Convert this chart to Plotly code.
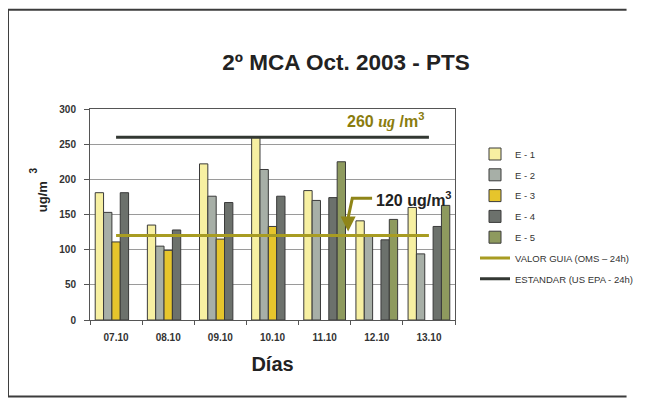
import plotly.graph_objects as go

# categories (days) and station values in ug/m3 (None = no sample)
dias = ["07.10", "08.10", "09.10", "10.10", "11.10", "12.10", "13.10"]
e1 = [181, 135, 222, 260, 184, 141, 160]
e2 = [153, 105, 176, 214, 170, 121, 94]
e3 = [111, 99, 115, 133, None, None, None]
e4 = [181, 128, 167, 176, 174, 114, 133]
e5 = [None, None, None, None, 225, 143, 163]
valor_guia = [120] * 7
estandar = [260] * 7

stations = [
    ("E - 1", e1, "#F7F0A2"),
    ("E - 2", e2, "#A7AFA7"),
    ("E - 3", e3, "#E6C52C"),
    ("E - 4", e4, "#6C716C"),
    ("E - 5", e5, "#8E9A5E"),
]

W, H = 629, 390

fig = go.Figure()

for name, vals, color in stations:
    fig.add_trace(go.Bar(
        x=dias, y=vals, name=name, legendgroup=name,
        marker=dict(color=color, line=dict(color="#3a3a3a", width=1))
    ))

fig.add_trace(go.Scatter(
    x=dias, y=valor_guia, mode="lines", name="VALOR GUIA (OMS – 24h)",
    legendgroup="guia", line=dict(color="#A89C22", width=3)
))
fig.add_trace(go.Scatter(
    x=dias, y=estandar, mode="lines", name="ESTANDAR (US EPA - 24h)",
    legendgroup="epa", line=dict(color="#333833", width=3)
))

# outer frame: left, top and bottom edges as separate lines
frame = dict(xref="paper", yref="paper", line=dict(color="#3c3c3c", width=2), layer="below")
fig.add_shape(type="line", x0=-0.2247, x1=-0.2247, y0=-0.362, y1=1.47, **frame)
fig.add_shape(type="line", x0=-0.2247, x1=1.47, y0=1.47, y1=1.47, **frame)
fig.add_shape(type="line", x0=-0.2247, x1=1.47, y0=-0.362, y1=-0.362, **frame)

# labels for the reference lines
fig.add_annotation(
    x=5.16, y=283, xref="x", yref="y", showarrow=False,
    text="<b>260 <i><span style='font-family:Liberation Serif'>ug</span></i> /m<sup>3</sup></b>",
    font=dict(family="Liberation Sans, Arial", size=16, color="#8A7C0E")
)
fig.add_annotation(
    x=5.72, y=172, xref="x", yref="y", showarrow=False,
    text="<b>120 ug/m<sup>3</sup></b>",
    font=dict(family="Liberation Sans, Arial", size=16, color="#222222")
)
# bent pointer from the 120 label down to the guide line
fig.add_shape(type="path", xref="x", yref="y",
              path="M 4.91 173 L 4.53 173 L 4.45 145",
              line=dict(color="#8F8518", width=3))
fig.add_annotation(
    x=4.45, y=126, ax=4.45, ay=147, xref="x", yref="y", axref="x", ayref="y",
    text="", showarrow=True, arrowhead=2, arrowsize=1, arrowwidth=3,
    arrowcolor="#8F8518"
)

# y axis title, placed by hand like the original
fig.add_annotation(
    x=-0.156, y=0.585, xref="paper", yref="paper", showarrow=False,
    text="<b>ug/m</b>", textangle=-90,
    font=dict(family="Liberation Sans, Arial", size=13, color="#222222")
)
fig.add_annotation(
    x=-0.175, y=0.73, xref="paper", yref="paper", showarrow=False,
    text="<b>3</b>", textangle=-90,
    font=dict(family="Liberation Sans, Arial", size=10, color="#222222")
)

# page body keeps an 8px margin, so the figure is sized and offset for it
fig.update_layout(
    width=W, height=H,
    margin=dict(l=82, r=W - 82 - 365, t=101, b=H - 101 - 211, autoexpand=False),
    paper_bgcolor="white", plot_bgcolor="white",
    barmode="group", bargap=0.2, bargroupgap=0,
    title=dict(
        text="<b>2º MCA Oct. 2003 - PTS</b>",
        x=338 / W, xanchor="center", y=1 - 54 / H, yanchor="middle",
        font=dict(family="Liberation Sans, Arial", size=22.5, color="#222222")
    ),
    xaxis=dict(
        showline=True, linecolor="#555555", linewidth=1, mirror=True,
        ticks="outside", tickson="boundaries", ticklen=4, tickcolor="#555555",
        ticklabelstandoff=8,
        tickfont=dict(family="Liberation Sans Narrow, Liberation Sans", size=10,
                      color="#333333", weight="bold"),
        title=dict(text="<b>Días</b>", standoff=14,
                   font=dict(family="Liberation Sans, Arial", size=20, color="#222222")),
        showgrid=False
    ),
    yaxis=dict(
        range=[0, 300], dtick=50,
        showline=True, linecolor="#555555", linewidth=1, mirror=True,
        ticks="outside", ticklen=5, tickcolor="#555555",
        ticklabelstandoff=6,
        tickfont=dict(family="Liberation Sans Narrow, Liberation Sans", size=10,
                      color="#333333", weight="bold"),
        showgrid=True, gridcolor="#9a9a9a", gridwidth=1,
        zeroline=False
    ),
    legend=dict(
        xref="container", yref="container",
        x=467 / W, y=1 - 131.5 / H, xanchor="left", yanchor="top",
        font=dict(family="Liberation Sans Narrow, Liberation Sans", size=9.5, color="#333333"),
        tracegroupgap=1.8, itemwidth=30, bgcolor="rgba(0,0,0,0)"
    ),
    showlegend=True
)

fig.write_html("out.html")
